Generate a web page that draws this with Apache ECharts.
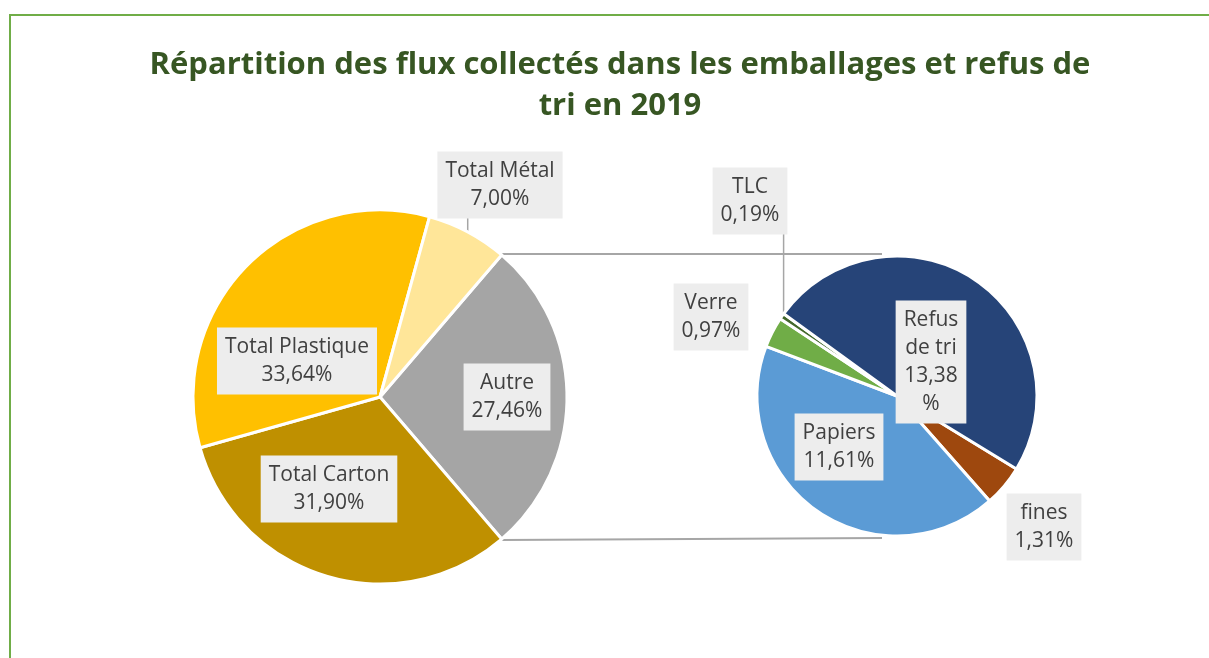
<!DOCTYPE html>
<html><head><meta charset="utf-8">
<script src="https://cdn.jsdelivr.net/npm/echarts@6/dist/echarts.min.js"></script>
<style>html,body{margin:0;padding:0;background:#fff}#c{width:1209px;height:658px}</style>
</head><body><div id="c"></div>
<script>
const titleText = 'Répartition des flux collectés dans les emballages et refus de\ntri en 2019';
const leftNames = ['Autre', 'Total Carton', 'Total Plastique', 'Total Métal'];
const leftValues = [27.46, 31.90, 33.64, 7.00];
const rightNames = ['fines', 'Papiers', 'Verre', 'TLC', 'Refus de tri'];
const rightValues = [1.31, 11.61, 0.97, 0.19, 13.38];

const leftColors = ['#a5a5a5', '#bf9000', '#ffc000', '#ffe699'];
const rightColors = ['#9e480e', '#5b9bd5', '#70ad47', '#43682b', '#264478'];

// layout (style)
const L = {cx: 380, cy: 397, r: 187};
const R = {cx: 897, cy: 396, r: 140};
const rightStart = -31.4;
const labelPos = {
  'Total Métal': [500, 185], 'Total Plastique': [297, 361], 'Autre': [507, 397], 'Total Carton': [329, 489],
  'TLC': [750, 201], 'Verre': [711, 317], 'Refus de tri': [931, 362], 'Papiers': [839, 447], 'fines': [1044, 527]
};
const leaderBottom = {'Total Métal': 218, 'TLC': 234};

const fmt = v => v.toFixed(2).replace('.', ',') + '%';
const FONT = 'Open Sans';
const labelStyle = {
  show: true, position: 'inside', fontFamily: FONT, fontSize: 21, color: '#404040',
  backgroundColor: '#ededed', padding: [6, 8, 5, 8], lineHeight: 28, align: 'center'
};

const leftTotal = leftValues.reduce((a, b) => a + b, 0);
const rightTotal = rightValues.reduce((a, b) => a + b, 0);
const leftStart = leftValues[0] / leftTotal * 360 / 2;

function sliceMid(values, total, start, idx) {
  let a = start;
  for (let i = 0; i < idx; i++) a -= values[i] / total * 360;
  return a - values[idx] / total * 360 / 2;
}
function pt(c, ang, r) {
  const t = ang * Math.PI / 180;
  return [c.cx + r * Math.cos(t), c.cy - r * Math.sin(t)];
}

const graphics = [];
graphics.push({type: 'rect', shape: {x: 10, y: 15, width: 1400, height: 800}, style: {fill: 'none', stroke: '#70ad47', lineWidth: 2}, z: 0});
// connector lines between pies
const pTop = pt(L, leftStart, L.r), pBot = pt(L, -leftStart, L.r);
graphics.push({type: 'line', shape: {x1: pTop[0], y1: pTop[1] - 1, x2: R.cx - 15, y2: R.cy - R.r - 2}, style: {stroke: '#a6a6a6', lineWidth: 2}, z: 1});
graphics.push({type: 'line', shape: {x1: pBot[0], y1: pBot[1] + 1, x2: R.cx - 15, y2: R.cy + R.r + 2}, style: {stroke: '#a6a6a6', lineWidth: 2}, z: 1});
// leader lines
{
  const i = leftNames.indexOf('Total Métal');
  const p = pt(L, sliceMid(leftValues, leftTotal, leftStart, i), L.r);
  graphics.push({type: 'line', shape: {x1: p[0], y1: p[1], x2: p[0], y2: leaderBottom['Total Métal']}, style: {stroke: '#a6a6a6', lineWidth: 1.5}, z: 1});
  const j = rightNames.indexOf('TLC');
  const q = pt(R, sliceMid(rightValues, rightTotal, rightStart, j), R.r - 2);
  graphics.push({type: 'line', shape: {x1: q[0], y1: q[1], x2: q[0], y2: leaderBottom['TLC']}, style: {stroke: '#a6a6a6', lineWidth: 1.5}, z: 1});
}

function mkData(names, values, colors) {
  return names.map((n, i) => ({name: n, value: values[i], itemStyle: {color: colors[i]}}));
}
function layoutFn(names) {
  return function (params) {
    const p = labelPos[names[params.dataIndex]];
    return {x: p[0], y: p[1], align: 'center', verticalAlign: 'middle'};
  };
}

const chart = echarts.init(document.getElementById('c'), null, {renderer: 'canvas'});
chart.setOption({
  animation: false,
  title: {
    text: titleText, left: 615, top: 40, textAlign: 'center',
    textStyle: {fontFamily: FONT, fontWeight: 'bold', fontSize: 31, color: '#375623', lineHeight: 41}
  },
  graphic: graphics,
  series: [
    {
      type: 'pie', center: [L.cx, L.cy], radius: L.r, startAngle: leftStart, clockwise: true,
      data: mkData(leftNames, leftValues, leftColors),
      itemStyle: {borderColor: '#fff', borderWidth: 3},
      label: Object.assign({}, labelStyle, {formatter: p => p.name + '\n' + fmt(p.value)}),
      labelLine: {show: false},
      labelLayout: layoutFn(leftNames),
      emphasis: {disabled: true}, z: 2
    },
    {
      type: 'pie', center: [R.cx, R.cy], radius: R.r, startAngle: rightStart, clockwise: true,
      data: mkData(rightNames, rightValues, rightColors),
      itemStyle: {borderColor: '#fff', borderWidth: 3},
      label: Object.assign({}, labelStyle, {
        formatter: p => p.name === 'Refus de tri'
          ? 'Refus\nde tri\n' + fmt(p.value).replace('%', '') + '\n%'
          : p.name + '\n' + fmt(p.value)
      }),
      labelLine: {show: false},
      labelLayout: layoutFn(rightNames),
      emphasis: {disabled: true}, z: 2
    }
  ]
});
</script></body></html>
